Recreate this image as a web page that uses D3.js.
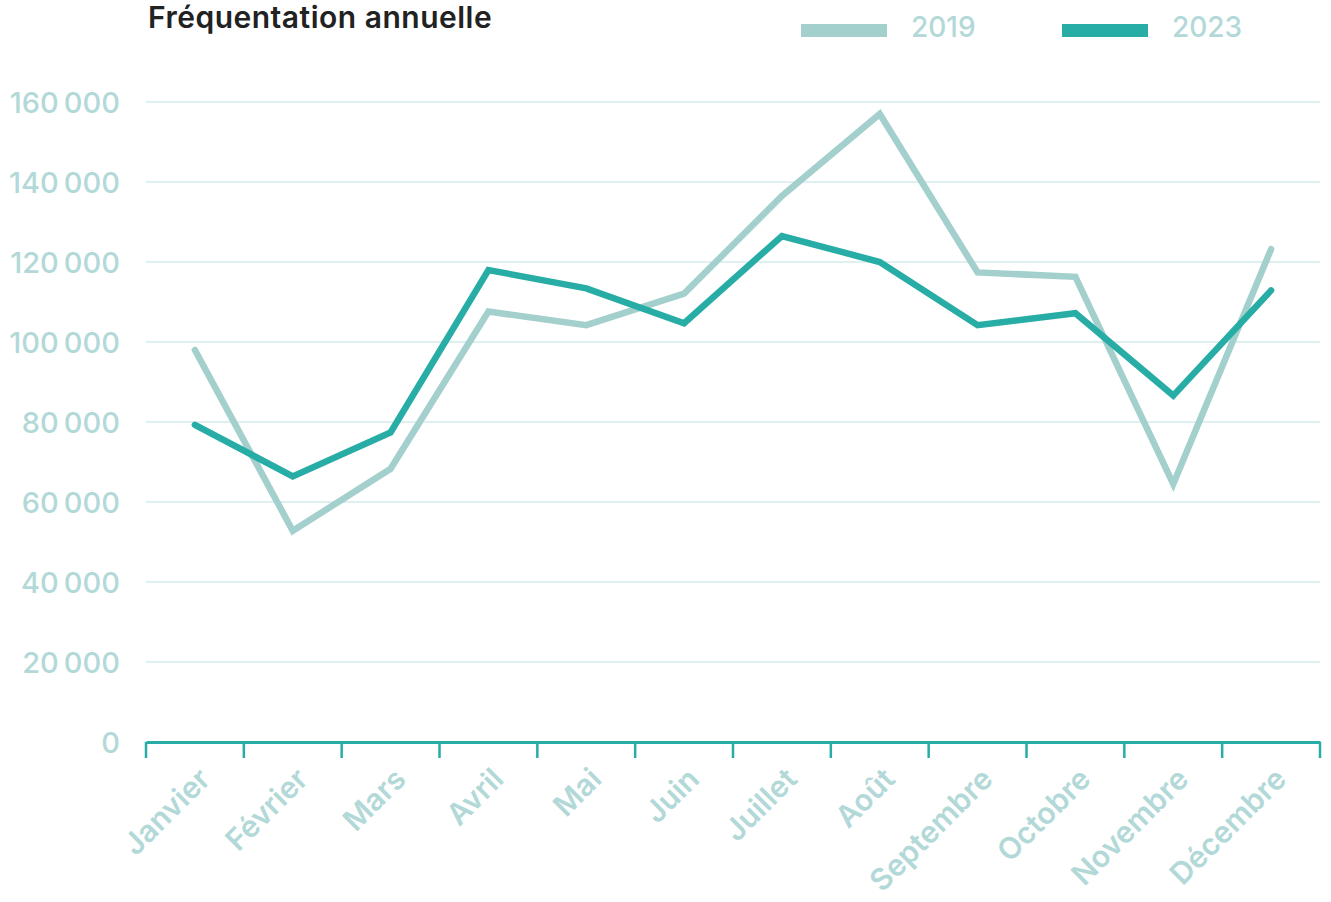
<!DOCTYPE html>
<html>
<head>
<meta charset="utf-8">
<script src="https://cdn.jsdelivr.net/npm/d3@7"></script>
<style>
  body { margin: 0; background: #fff; }
  svg { display: block; }
</style>
</head>
<body>
<div id="chart"></div>
<script>
// values
const months = ["Janvier", "Février", "Mars", "Avril", "Mai", "Juin", "Juillet", "Août", "Septembre", "Octobre", "Novembre", "Décembre"];
const values2019 = [98000, 52800, 68300, 107600, 104200, 112100, 136500, 157000, 117400, 116300, 64500, 123200];
const values2023 = [79300, 66400, 77400, 118000, 113400, 104700, 126500, 120000, 104200, 107200, 86600, 112900];
const yTicks = [0, 20000, 40000, 60000, 80000, 100000, 120000, 140000, 160000];
const seriesNames = ["2019", "2023"];

const colors = {
    light: "#a3d0cd",
    dark: "#27ada5",
    label: "#b2d9d8",
    grid: "#dff0f0",
    title: "#222222",
};

const font = "Inter, 'Liberation Sans', Arial, sans-serif";

const width = 1331, height = 902;
const margin = { top: 102, right: 11, bottom: 160, left: 146 };

const svg = d3.select("#chart")
    .append("svg")
    .attr("width", width)
    .attr("height", height)
    .style("font-family", font);

const x = d3.scaleBand()
    .domain(months)
    .range([margin.left, width - margin.right]);

const y = d3.scaleLinear()
    .domain([0, 160000])
    .range([height - margin.bottom, margin.top]);

// thin space as thousands separator
const fmt = (d) => d3.format(",")(d).replace(/,/g, "\u2009");

// Grid lines
svg.append("g")
    .selectAll("line")
    .data(yTicks.filter(d => d > 0))
    .enter()
    .append("line")
    .attr("x1", margin.left)
    .attr("x2", width - margin.right)
    .attr("y1", d => y(d))
    .attr("y2", d => y(d))
    .attr("stroke", colors.grid)
    .attr("stroke-width", 2);

// Y axis labels
const yAxis = svg.append("g")
    .attr("transform", `translate(${margin.left - 26},0)`)
    .call(d3.axisLeft(y).tickValues(yTicks).tickFormat(fmt).tickSize(0).tickPadding(0));
yAxis.select(".domain").remove();
yAxis.selectAll("text")
    .attr("fill", colors.label)
    .attr("font-size", 29)
    .attr("font-weight", 500)
    .attr("font-family", font)
    .attr("dy", "0.35em");

// X axis
const xAxis = svg.append("g")
    .attr("transform", `translate(0,${y(0)})`)
    .call(d3.axisBottom(x).tickSize(0).tickFormat(""));
xAxis.select(".domain")
    .attr("stroke", colors.dark)
    .attr("stroke-width", 3);

const tickPos = months.map(m => x(m)).concat([x.range()[1]]);
xAxis.selectAll(".edge-tick")
    .data(tickPos)
    .enter()
    .append("line")
    .attr("class", "edge-tick")
    .attr("x1", d => d)
    .attr("x2", d => d)
    .attr("y1", 0)
    .attr("y2", 16)
    .attr("stroke", colors.dark)
    .attr("stroke-width", 2.5);

svg.append("g")
    .selectAll("text")
    .data(months)
    .enter()
    .append("text")
    .attr("transform", d => `translate(${x(d) + x.bandwidth() / 2 + 17},${y(0) + 39}) rotate(-45)`)
    .attr("text-anchor", "end")
    .attr("fill", colors.label)
    .attr("font-size", 30)
    .attr("font-weight", 600)
    .text(d => d);

// Lines
const line = (vals) => d3.line()
    .x((d, i) => x(months[i]) + x.bandwidth() / 2)
    .y(d => y(d))(vals);

svg.append("path")
    .attr("d", line(values2019))
    .attr("fill", "none")
    .attr("stroke", colors.light)
    .attr("stroke-width", 6.5)
    .attr("stroke-linecap", "round");

svg.append("path")
    .attr("d", line(values2023))
    .attr("fill", "none")
    .attr("stroke", colors.dark)
    .attr("stroke-width", 6.5)
    .attr("stroke-linecap", "round");

// Title
svg.append("text")
    .attr("x", 148)
    .attr("y", 28)
    .attr("fill", colors.title)
    .attr("font-size", 30)
    .attr("font-weight", 600)
    .attr("letter-spacing", 0.5)
    .attr("font-family", font)
    .text("Fréquentation annuelle");

// Legend
const legend = svg.append("g")
    .selectAll("g")
    .data(seriesNames)
    .enter()
    .append("g")
    .attr("transform", (d, i) => `translate(${801 + i * 261},0)`);

legend.append("rect")
    .attr("x", 0)
    .attr("y", 24)
    .attr("width", 86)
    .attr("height", 13)
    .attr("fill", (d, i) => i === 0 ? colors.light : colors.dark);

legend.append("text")
    .attr("x", 110)
    .attr("y", 37)
    .attr("fill", colors.label)
    .attr("font-size", 28)
    .attr("font-weight", 500)
    .text(d => d);
</script>
</body>
</html>
